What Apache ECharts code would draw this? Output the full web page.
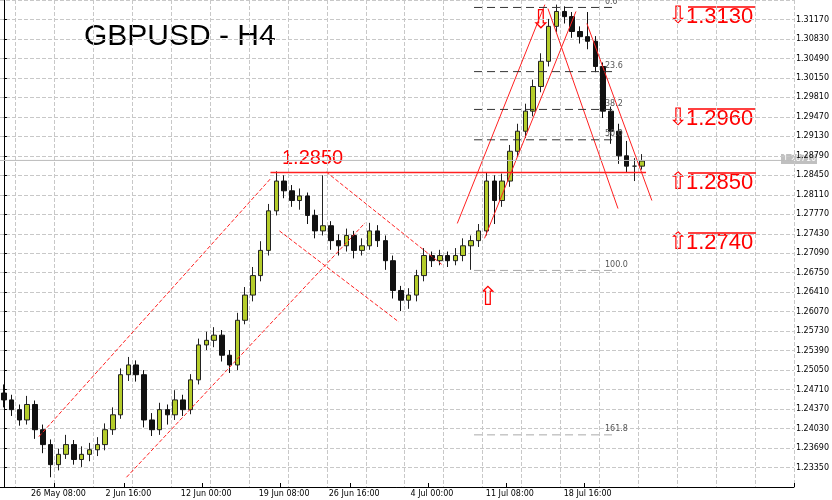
<!DOCTYPE html>
<html><head><meta charset="utf-8">
<script src="https://cdn.jsdelivr.net/npm/echarts@6/dist/echarts.min.js"></script>
<style>html,body{margin:0;padding:0;background:#fff}#c{width:832px;height:500px}</style>
</head><body><div id="c"></div>
<script>
var opens=[1.2465,1.2453,1.2436,1.2418,1.2445,1.2401,1.2375,1.2340,1.2358,1.2375,1.2349,1.2358,1.2366,1.2375,1.2401,1.2427,1.2497,1.2514,1.2497,1.2418,1.2401,1.2436,1.2427,1.2453,1.2436,1.2488,1.2549,1.2557,1.2566,1.2531,1.2514,1.2592,1.2636,1.2670,1.2714,1.2783,1.2835,1.2818,1.2801,1.2809,1.2775,1.2748,1.2757,1.2731,1.2722,1.2740,1.2714,1.2722,1.2748,1.2731,1.2696,1.2644,1.2627,1.2636,1.2670,1.2705,1.2696,1.2705,1.2696,1.2705,1.2722,1.2731,1.2748,1.2835,1.2801,1.2835,1.2887,1.2922,1.2957,1.3000,1.3044,1.3105,1.3131,1.3122,1.3096,1.3087,1.3079,1.3035,1.2957,1.2922,1.2879,1.2861,1.2861];
var closes=[1.2453,1.2436,1.2418,1.2445,1.2401,1.2375,1.2340,1.2358,1.2375,1.2349,1.2358,1.2366,1.2375,1.2401,1.2427,1.2497,1.2514,1.2497,1.2418,1.2401,1.2436,1.2427,1.2453,1.2436,1.2488,1.2549,1.2557,1.2566,1.2531,1.2514,1.2592,1.2636,1.2670,1.2714,1.2783,1.2835,1.2818,1.2801,1.2809,1.2775,1.2748,1.2757,1.2731,1.2722,1.2740,1.2714,1.2722,1.2748,1.2731,1.2696,1.2644,1.2627,1.2636,1.2670,1.2705,1.2696,1.2705,1.2696,1.2705,1.2722,1.2731,1.2748,1.2835,1.2801,1.2835,1.2887,1.2922,1.2957,1.3000,1.3044,1.3105,1.3131,1.3122,1.3096,1.3087,1.3079,1.3035,1.2957,1.2922,1.2879,1.2861,1.2861,1.2870];
var highs=[1.2480,1.2462,1.2445,1.2460,1.2452,1.2410,1.2384,1.2368,1.2392,1.2383,1.2372,1.2378,1.2388,1.2412,1.2440,1.2508,1.2528,1.2522,1.2505,1.2430,1.2448,1.2445,1.2470,1.2462,1.2498,1.2560,1.2572,1.2580,1.2575,1.2540,1.2605,1.2650,1.2685,1.2730,1.2795,1.2852,1.2845,1.2828,1.2822,1.2815,1.2785,1.2845,1.2765,1.2742,1.2752,1.2748,1.2735,1.2762,1.2758,1.2740,1.2705,1.2652,1.2648,1.2680,1.2718,1.2712,1.2715,1.2712,1.2718,1.2735,1.2740,1.2760,1.2850,1.2845,1.2848,1.2898,1.2935,1.2970,1.3012,1.3058,1.3118,1.3143,1.3140,1.3130,1.3105,1.3130,1.3088,1.3042,1.2965,1.2935,1.2905,1.2875,1.2882];
var lows=[1.2440,1.2425,1.2408,1.2410,1.2385,1.2360,1.2318,1.2330,1.2350,1.2340,1.2336,1.2346,1.2355,1.2365,1.2392,1.2420,1.2486,1.2485,1.2405,1.2390,1.2392,1.2410,1.2418,1.2425,1.2428,1.2480,1.2540,1.2545,1.2520,1.2500,1.2505,1.2585,1.2625,1.2660,1.2705,1.2775,1.2805,1.2790,1.2785,1.2760,1.2735,1.2740,1.2715,1.2705,1.2712,1.2700,1.2705,1.2715,1.2720,1.2680,1.2630,1.2608,1.2612,1.2625,1.2660,1.2685,1.2688,1.2685,1.2688,1.2695,1.2680,1.2720,1.2740,1.2760,1.2790,1.2825,1.2878,1.2910,1.2948,1.2990,1.3035,1.3095,1.3110,1.3085,1.3075,1.3065,1.3025,1.2945,1.2900,1.2865,1.2850,1.2835,1.2855];
var xLabels={7:'26 May 08:00',16:'2 Jun 16:00',26:'12 Jun 00:00',36:'19 Jun 08:00',45:'26 Jun 16:00',55:'4 Jul 00:00',65:'11 Jul 08:00',75:'18 Jul 16:00'};
var fibLevels=[1.3138,1.3026,1.2960,1.2907,1.2679,1.2392];
var fibNames=['0.0','23.6','38.2','50.0','100.0','161.8'];
var currentPrice=1.2871;
var N=102;
var cats=[];for(var i=0;i<N;i++)cats.push(xLabels[i]||String(i));
var kdata=closes.map(function(c,i){return [opens[i],c,lows[i],highs[i]];});
var lines=[
 {d:[[15.75,1.2318],[46.4,1.2762]],t:'dashed'},
 {d:[[4.5,1.2389],[34.25,1.2839]],t:'dashed'},
 {d:[[41.4,1.2851],[56.4,1.2688]],t:'dashed'},
 {d:[[35.4,1.2748],[50.75,1.2589]],t:'dashed'},
 {d:[[58.25,1.2761],[69.5,1.3143]],t:'solid'},
 {d:[[61.75,1.2735],[73.5,1.3131]],t:'solid'},
 {d:[[69.9,1.3136],[78.9,1.2787]],t:'solid'},
 {d:[[74.9,1.3110],[83.25,1.2801]],t:'solid'},
 {d:[[34.25,1.2850],[82.5,1.2850]],t:'solid',w:1.5}
];
var series=[{type:'candlestick',data:kdata,barWidth:5,
 itemStyle:{color:'#b4cc2a',color0:'#111',borderColor:'#222',borderColor0:'#111'}}];
lines.forEach(function(l){series.push({type:'line',xAxisIndex:1,yAxisIndex:0,data:l.d,symbol:'none',silent:true,
 lineStyle:{color:'#ff2020',width:l.w||1,type:l.t}});});
fibLevels.forEach(function(v,i){series.push({type:'line',xAxisIndex:1,data:[[60.4,v],[78.25,v]],symbol:'none',silent:true,
 lineStyle:{color:i>=4?'#aaa':'#333',width:1,type:[8,5]},
 endLabel:{show:true,formatter:fibNames[i],color:'#555',fontSize:8,offset:[-16,-6],fontFamily:'DejaVu Sans'}});});
series.push({type:'line',xAxisIndex:1,data:[[-0.5,currentPrice],[N-0.5,currentPrice]],symbol:'none',silent:true,lineStyle:{color:'#bbb',width:1}});
var chart=echarts.init(document.getElementById('c'));
function txt(x,y,s,size,col){return {type:'text',left:x,top:y,style:{text:s,fontSize:size,fill:col||'#ff0000',fontFamily:'Liberation Sans, Arial'}};}
var g=[txt(84,22,'GBPUSD - H4',30,'#000'),txt(282,148,'1.2850',20)];
var rl=[[686,6,'1.3130','⇩'],[686,108,'1.2960','⇩'],[686,172,'1.2850','⇧'],[686,232,'1.2740','⇧']];
rl.forEach(function(r){g.push(txt(r[0],r[1],r[2],22));g.push(txt(r[0]-18,r[1]-2,r[3],24));
 g.push({type:'line',shape:{x1:r[0]+2,y1:r[1]+1,x2:r[0]+70,y2:r[1]+1},style:{stroke:'#ff0000',lineWidth:1.5}});});
g.push(txt(530,8,'⇩',26));g.push(txt(477,285,'⇧',26));
g.push({type:'rect',shape:{x:781,y:154,width:36,height:10},style:{fill:'#c0c0c0'}});
g.push({type:'text',left:783,top:155,style:{text:currentPrice.toFixed(5),fontSize:8,fill:'#fff',fontFamily:'DejaVu Sans'}});
chart.setOption({animation:false,
 grid:{left:0,right:16,top:-2,bottom:13},
 xAxis:[{type:'category',data:cats,boundaryGap:true,
   axisLine:{lineStyle:{color:'#000'}},axisTick:{show:true,interval:function(i){return !!xLabels[i];},inside:true,length:4,lineStyle:{color:'#000'}},
   axisLabel:{interval:function(i){return !!xLabels[i];},fontSize:8,color:'#000',margin:3,fontFamily:'DejaVu Sans'},
   splitLine:{show:true,interval:function(i){return i%5===2;},lineStyle:{color:'#c8c8c8',type:'dashed'}}},
  {type:'value',min:-0.5,max:N-0.5,show:false}],
 yAxis:{type:'value',position:'right',min:1.2301,max:1.3151,interval:0.0034,
   axisLine:{show:true,lineStyle:{color:'#000'}},axisTick:{show:true,inside:false,length:3,lineStyle:{color:'#000'}},
   axisLabel:{showMinLabel:false,showMaxLabel:false,formatter:function(v){return v.toFixed(5);},fontSize:8,color:'#000',margin:2,fontFamily:'DejaVu Sans'},
   splitLine:{show:true,lineStyle:{color:'#c8c8c8',type:'dashed'}}},
 series:series,graphic:g});
</script></body></html>
